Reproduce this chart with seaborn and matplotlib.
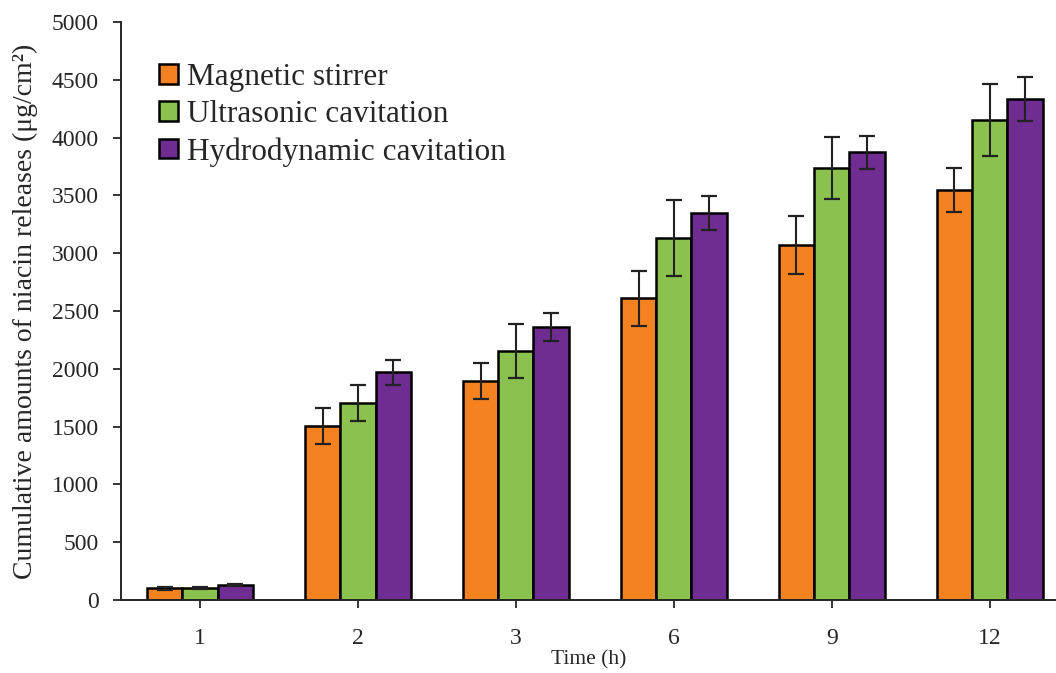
import numpy as np
import pandas as pd
import matplotlib
matplotlib.use('Agg')
import matplotlib.pyplot as plt
import seaborn as sns

# valores
tempos = ['1', '2', '3', '6', '9', '12']
metodos = ['Magnetic stirrer', 'Ultrasonic cavitation', 'Hydrodynamic cavitation']
magnetico = [100, 1505, 1895, 2612, 3071, 3547]
ultrassom = [105, 1705, 2154, 3131, 3737, 4152]
hidrodinamico = [130, 1972, 2362, 3348, 3875, 4334]
erro_magnetico = [15, 152, 155, 238, 250, 187]
erro_ultrassom = [8, 156, 230, 330, 268, 315]
erro_hidrodinamico = [10, 108, 120, 150, 143, 190]

cores = ['#F58220', '#8BC14E', '#6F2C91']

sns.set_style('ticks')
plt.rcParams['font.family'] = ['Liberation Serif', 'DejaVu Serif']

df = pd.DataFrame({
    'Tempo': tempos * 3,
    'Metodo': np.repeat(metodos, len(tempos)),
    'Valor': magnetico + ultrassom + hidrodinamico,
})
erros = erro_magnetico + erro_ultrassom + erro_hidrodinamico

fig = plt.figure(figsize=(10.56, 6.73), dpi=100)
ax = fig.add_axes([0.1146, 0.1085, 0.8854, 0.8588])

sns.barplot(data=df, x='Tempo', y='Valor', hue='Metodo', order=tempos,
            hue_order=metodos, palette=cores, width=0.67, errorbar=None,
            edgecolor='black', linewidth=1.8, saturation=1, ax=ax)

# barras de erro no centro de cada barra
barras = [p for p in ax.patches if p.get_height() > 0]
for p, e in zip(barras, erros):
    xc = p.get_x() + p.get_width() / 2
    ax.errorbar(xc, p.get_height(), yerr=e, fmt='none', ecolor='#222222',
                elinewidth=1.5, capsize=5.5, capthick=1.6, zorder=5)

ax.set_ylim(0, 5000)
ax.set_yticks(np.arange(0, 5001, 500))
ax.set_xlim(-0.5, 5.42)
ax.set_xlabel('Time (h)', fontsize=15.5, labelpad=1)
ax.set_ylabel('Cumulative amounts of niacin releases (μg/cm²)', fontsize=20, labelpad=10)
ax.tick_params(axis='both', labelsize=17, direction='out', length=6, width=1.3)
ax.tick_params(axis='x', pad=14)
ax.tick_params(axis='y', pad=10)
for s in ['top', 'right']:
    ax.spines[s].set_visible(False)
for s in ['left', 'bottom']:
    ax.spines[s].set_linewidth(1.4)

leg = ax.legend(loc='upper left', bbox_to_anchor=(0.027, 0.95), fontsize=22.5,
                frameon=False, handlelength=0.6, handleheight=0.6,
                handletextpad=0.3, labelspacing=0.25, borderaxespad=0)

fig.savefig('out.png', dpi=100)
